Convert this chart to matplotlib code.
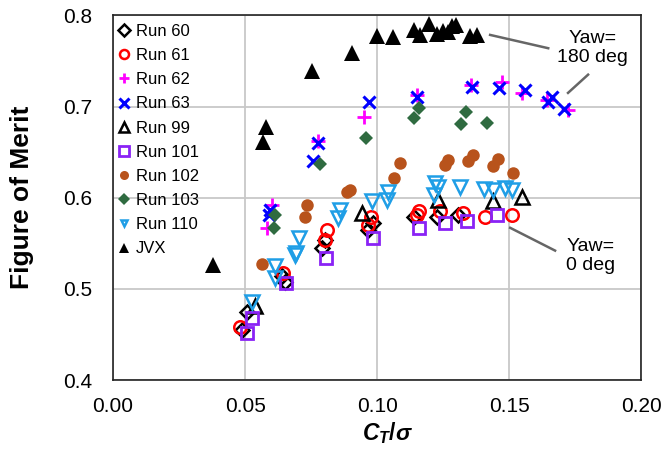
import matplotlib
matplotlib.use("Agg")
import matplotlib.pyplot as plt

plt.rcParams['font.family'] = ['Liberation Sans', 'DejaVu Sans']
plt.rcParams['mathtext.fontset'] = 'custom'
plt.rcParams['mathtext.it'] = 'Liberation Sans:bold:italic'
plt.rcParams['mathtext.rm'] = 'Liberation Sans:bold'
plt.rcParams['mathtext.bf'] = 'Liberation Sans:bold'

# ---- data (C_T/sigma, Figure of Merit) ----
run60_x = [0.0506, 0.0490, 0.0639, 0.0650, 0.0803, 0.0790, 0.0967, 0.0985, 0.1138, 0.1226, 0.1308]
run60_y = [0.475, 0.455, 0.514, 0.508, 0.554, 0.545, 0.565, 0.572, 0.579, 0.579, 0.581]

run61_x = [0.0481, 0.0645, 0.0812, 0.0803, 0.0976, 0.0967, 0.1157, 0.1150, 0.1239, 0.1327, 0.1409, 0.1510]
run61_y = [0.458, 0.517, 0.565, 0.554, 0.579, 0.570, 0.585, 0.581, 0.585, 0.583, 0.579, 0.581]

run62_x = [0.0601, 0.0582, 0.0775, 0.0951, 0.1150, 0.1355, 0.1472, 0.1548, 0.1645, 0.1724]
run62_y = [0.592, 0.567, 0.662, 0.689, 0.713, 0.724, 0.727, 0.715, 0.707, 0.696]

run63_x = [0.0595, 0.0589, 0.0778, 0.0759, 0.0971, 0.1150, 0.1359, 0.1460, 0.1560, 0.1662, 0.1649, 0.1706]
run63_y = [0.587, 0.581, 0.660, 0.640, 0.705, 0.711, 0.722, 0.720, 0.718, 0.711, 0.705, 0.697]

run99_x = [0.0538, 0.0942, 0.1232, 0.1440, 0.1548]
run99_y = [0.481, 0.583, 0.598, 0.596, 0.601]

run101_x = [0.0506, 0.0525, 0.0655, 0.0806, 0.0983, 0.1160, 0.1258, 0.1340, 0.1453]
run101_y = [0.452, 0.468, 0.507, 0.534, 0.556, 0.567, 0.572, 0.574, 0.581]

run102_x = [0.0563, 0.0736, 0.0727, 0.0885, 0.0898, 0.1085, 0.1064, 0.1258, 0.1270, 0.1346, 0.1362, 0.1438, 0.1456, 0.1513]
run102_y = [0.527, 0.592, 0.579, 0.606, 0.609, 0.638, 0.622, 0.636, 0.641, 0.640, 0.647, 0.635, 0.643, 0.627]

run103_x = [0.0614, 0.0610, 0.0782, 0.0957, 0.1160, 0.1141, 0.1337, 0.1318, 0.1418]
run103_y = [0.581, 0.567, 0.637, 0.665, 0.698, 0.688, 0.694, 0.681, 0.682]

run110_x = [0.0525, 0.0614, 0.0614, 0.0689, 0.0706, 0.0693, 0.0860, 0.0853, 0.0980, 0.1043, 0.1036,
            0.1220, 0.1214, 0.1232, 0.1314, 0.1403, 0.1440, 0.1485, 0.1510]
run110_y = [0.486, 0.525, 0.512, 0.537, 0.556, 0.539, 0.587, 0.578, 0.596, 0.606, 0.597,
            0.616, 0.603, 0.612, 0.612, 0.610, 0.608, 0.611, 0.609]

jvx_x = [0.0379, 0.0567, 0.0581, 0.0755, 0.0905, 0.1001, 0.1060, 0.1138, 0.1163, 0.1197, 0.1226,
         0.1251, 0.1270, 0.1283, 0.1300, 0.1352, 0.1377]
jvx_y = [0.526, 0.661, 0.678, 0.739, 0.759, 0.777, 0.776, 0.784, 0.779, 0.791, 0.780,
         0.783, 0.782, 0.788, 0.790, 0.777, 0.778]

x_ticks = [0.00, 0.05, 0.10, 0.15, 0.20]
y_ticks = [0.4, 0.5, 0.6, 0.7, 0.8]

fig = plt.figure(figsize=(6.61, 4.53), dpi=100)
ax = fig.add_axes([0.171, 0.161, 0.799, 0.805])

series = [
    (run60_x, run60_y, dict(marker='D', ms=7.5, mfc='none', mec='black', mew=1.8), 'Run 60'),
    (run61_x, run61_y, dict(marker='o', ms=9, mfc='none', mec='#ff0000', mew=1.8), 'Run 61'),
    (run62_x, run62_y, dict(marker='+', ms=10, mec='#ff00ff', mew=2.0), 'Run 62'),
    (run63_x, run63_y, dict(marker='x', ms=8, mec='#0000ff', mew=2.2), 'Run 63'),
    (run99_x, run99_y, dict(marker='^', ms=9.5, mfc='none', mec='black', mew=1.8), 'Run 99'),
    (run101_x, run101_y, dict(marker='s', ms=8.5, mfc='none', mec='#8a22f5', mew=2.0), 'Run 101'),
    (run102_x, run102_y, dict(marker='o', ms=9, mfc='#b8531c', mec='#b8531c', mew=0), 'Run 102'),
    (run103_x, run103_y, dict(marker='D', ms=7.5, mfc='#2f6b40', mec='#2f6b40', mew=0), 'Run 103'),
    (run110_x, run110_y, dict(marker='v', ms=10, mfc='none', mec='#1f9ee6', mew=1.8), 'Run 110'),
    (jvx_x, jvx_y, dict(marker='^', ms=11, mfc='black', mec='black', mew=0), 'JVX'),
]
for xs, ys, st, lab in series:
    ax.plot(xs, ys, linestyle='none', label=lab, **st)

ax.set_xlim(0, 0.2)
ax.set_ylim(0.4, 0.8)
ax.set_xticks(x_ticks)
ax.set_yticks(y_ticks)
ax.set_xticklabels([f"{v:.2f}" for v in x_ticks], fontsize=15)
ax.set_yticklabels([f"{v:.1f}" for v in y_ticks], fontsize=15)
ax.tick_params(axis='x', length=0, pad=12)
ax.tick_params(axis='y', length=0, pad=15)
ax.grid(True, color='#c8c8c8', linewidth=1.3)
ax.set_axisbelow(True)
for sp in ax.spines.values():
    sp.set_color('#222222')
    sp.set_linewidth(1.2)

ax.set_xlabel(r'$C_T/\sigma$', fontsize=16.5)
ax.xaxis.set_label_coords(0.52, -0.145)
ax.xaxis.label.set_va('center')
ax.set_ylabel('Figure of Merit', fontsize=19, fontweight='bold')
ax.yaxis.set_label_coords(-0.172, 0.5)
ax.yaxis.label.set_va('center')

leg = ax.legend(loc='upper left', frameon=False, fontsize=12, handlelength=0.8,
                handletextpad=0.3, labelspacing=0.55, borderaxespad=0.0,
                bbox_to_anchor=(-0.004, 0.995))
for h in leg.legend_handles:
    h.set_markersize(6.5)
leg.legend_handles[8].set_markersize(4.5)

# annotations
ax.plot([0.1428, 0.1648], [0.7786, 0.764], color='#666666', lw=1.8)
ax.plot([0.1799, 0.1723], [0.735, 0.715], color='#666666', lw=1.8)
ax.text(0.1816, 0.7638, 'Yaw=\n180 deg', ha='center', va='center', fontsize=14, linespacing=1.15)
ax.plot([0.1504, 0.1674], [0.567, 0.542], color='#666666', lw=1.8)
ax.text(0.181, 0.5363, 'Yaw=\n0 deg', ha='center', va='center', fontsize=14, linespacing=1.15)

fig.savefig('out.png', dpi=100)
